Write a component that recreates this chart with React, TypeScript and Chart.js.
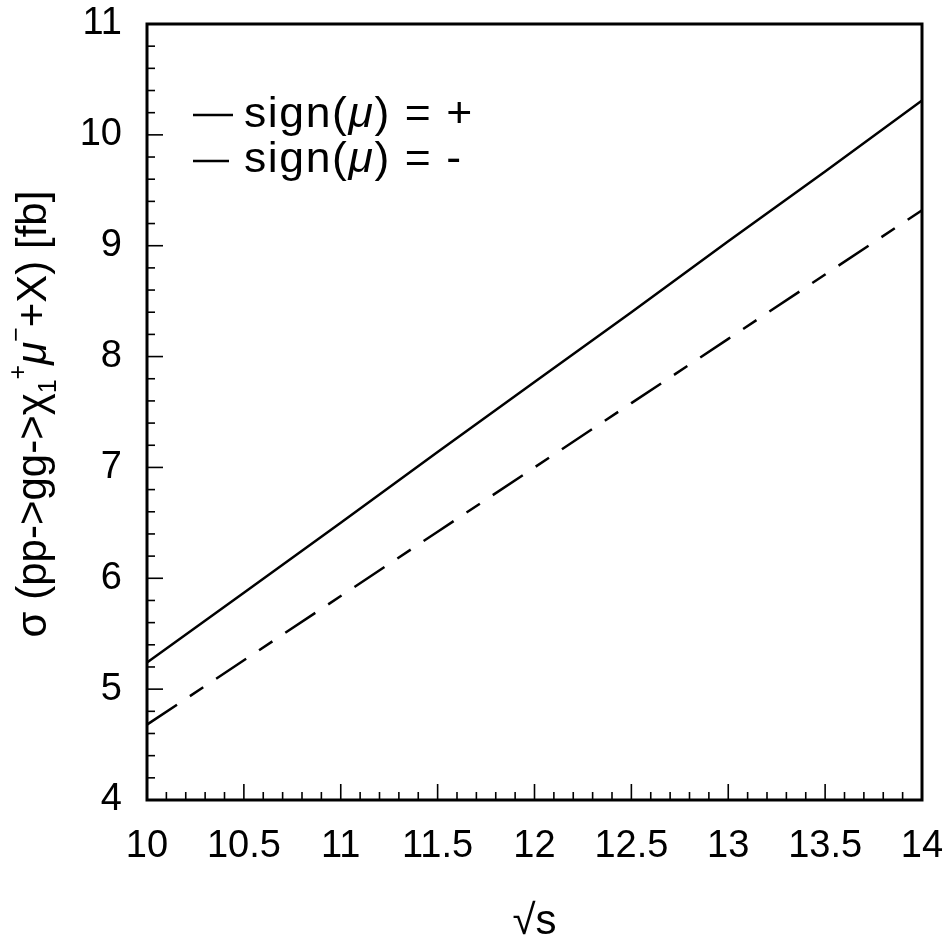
import React, { useEffect, useRef } from 'react';
import { Chart, registerables } from 'chart.js';

Chart.register(...registerables);

// ---- data ----
const sqrtS = [10, 10.5, 11, 11.5, 12, 12.5, 13, 13.5, 14];
const sigmaPlus = [5.24, 5.87, 6.5, 7.14, 7.77, 8.4, 9.04, 9.67, 10.31];
const sigmaMinus = [4.68, 5.26, 5.84, 6.42, 7.0, 7.58, 8.16, 8.74, 9.32];
const seriesLabels = ['sign(μ) = +', 'sign(μ) = -'];
const xRange = [10, 14];
const yRange = [4, 11];
const xMajorStep = 0.5;
const xMinorStep = 0.1;
const yMajorStep = 1;
const yMinorStep = 0.2;

const FONT = '"Liberation Sans", Arial, Helvetica, sans-serif';
const DASH = [36, 15.5, 16, 15.5];

type Run = { t: string; size: number; italic?: boolean; dy?: number };

function drawRuns(ctx: CanvasRenderingContext2D, runs: Run[], spacing: number, measureOnly = false) {
  let x = 0;
  for (const r of runs) {
    ctx.font = `${r.italic ? 'italic ' : ''}${r.size}px ${FONT}`;
    (ctx as any).letterSpacing = `${spacing}px`;
    if (!measureOnly) ctx.fillText(r.t, x, r.dy || 0);
    x += ctx.measureText(r.t).width;
  }
  return x;
}

function splitMu(label: string, size: number): Run[] {
  const parts = label.split('μ');
  const runs: Run[] = [];
  parts.forEach((p, i) => {
    if (p) runs.push({ t: p, size });
    if (i < parts.length - 1) runs.push({ t: 'μ', size, italic: true });
  });
  return runs;
}

const framePlugin = {
  id: 'framePlugin',
  afterDraw(chart: any) {
    const ctx: CanvasRenderingContext2D = chart.ctx;
    const { left, right, top, bottom } = chart.chartArea;
    const xs = chart.scales.x;
    const ys = chart.scales.y;
    ctx.save();
    ctx.strokeStyle = '#000';
    ctx.fillStyle = '#000';

    // inner ticks on x axis
    ctx.lineWidth = 1.6;
    const nx = Math.round((xs.max - xs.min) / xMinorStep);
    for (let i = 1; i < nx; i++) {
      const v = xs.min + i * xMinorStep;
      const px = xs.getPixelForValue(v);
      const major = Math.abs(v / xMajorStep - Math.round(v / xMajorStep)) < 1e-6;
      const len = major ? 16 : 8;
      ctx.beginPath();
      ctx.moveTo(px, bottom);
      ctx.lineTo(px, bottom - len);
      ctx.stroke();
    }
    // inner ticks on y axis
    const ny = Math.round((ys.max - ys.min) / yMinorStep);
    for (let i = 1; i < ny; i++) {
      const v = ys.min + i * yMinorStep;
      const py = ys.getPixelForValue(v);
      const major = Math.abs(v / yMajorStep - Math.round(v / yMajorStep)) < 1e-6;
      const len = major ? 16 : 8;
      ctx.beginPath();
      ctx.moveTo(left, py);
      ctx.lineTo(left + len, py);
      ctx.stroke();
    }

    // frame
    ctx.lineWidth = 3;
    ctx.strokeRect(left, top, right - left, bottom - top);

    // legend
    const items = [
      { dash: [] as number[], label: seriesLabels[0] },
      { dash: DASH, label: seriesLabels[1] },
    ];
    items.forEach((it, i) => {
      const ly = top + 91 + i * 46;
      ctx.lineWidth = 2.5;
      ctx.setLineDash(it.dash);
      ctx.beginPath();
      ctx.moveTo(left + 46, ly);
      ctx.lineTo(left + 86, ly);
      ctx.stroke();
      ctx.setLineDash([]);
      ctx.save();
      ctx.translate(left + 97, top + 103 + i * 45);
      ctx.scale(1.06, 1);
      ctx.textBaseline = 'alphabetic';
      ctx.textAlign = 'left';
      drawRuns(ctx, splitMu(it.label, 42), 1.5);
      ctx.restore();
    });

    // y axis title
    const F = 42;
    const s = 25;
    const yRuns: Run[] = [
      { t: 'σ (pp->gg->χ', size: F },
      { t: '1', size: s, dy: 10 },
      { t: '+', size: s, dy: -20 },
      { t: 'μ', size: F, italic: true },
      { t: '−', size: s, dy: -22 },
      { t: '+X) [fb]', size: F },
    ];
    ctx.save();
    ctx.textAlign = 'left';
    ctx.textBaseline = 'alphabetic';
    const w = drawRuns(ctx, yRuns, 0, true);
    ctx.translate(46, (top + bottom) / 2 + 2);
    ctx.rotate(-Math.PI / 2);
    ctx.translate(-w / 2, 0);
    drawRuns(ctx, yRuns, 0);
    ctx.restore();

    // x axis title
    ctx.save();
    ctx.textAlign = 'left';
    ctx.textBaseline = 'alphabetic';
    const xRuns: Run[] = [{ t: '√s', size: 42 }];
    const wx = drawRuns(ctx, xRuns, 0, true);
    ctx.translate((left + right) / 2 - wx / 2, 934);
    drawRuns(ctx, xRuns, 0);
    ctx.restore();

    ctx.restore();
  },
};

export default function App() {
  const ref = useRef<HTMLCanvasElement | null>(null);
  useEffect(() => {
    document.body.style.margin = '0';
    const canvas = ref.current;
    if (!canvas) return;
    const tickFont = { family: FONT, size: 38 };
    const chart = new Chart(canvas, {
      type: 'line',
      data: {
        datasets: [
          {
            label: seriesLabels[0],
            data: sqrtS.map((x, i) => ({ x, y: sigmaPlus[i] })),
            borderColor: '#000',
            borderWidth: 2.5,
            pointRadius: 0,
            tension: 0,
            fill: false,
          },
          {
            label: seriesLabels[1],
            data: sqrtS.map((x, i) => ({ x, y: sigmaMinus[i] })),
            borderColor: '#000',
            borderWidth: 2.5,
            borderDash: DASH,
            pointRadius: 0,
            tension: 0,
            fill: false,
          },
        ],
      },
      options: {
        responsive: false,
        animation: false,
        layout: { padding: { top: 24, right: 29, left: 0, bottom: 0 } },
        plugins: { legend: { display: false }, tooltip: { enabled: false } },
        scales: {
          x: {
            type: 'linear',
            min: xRange[0],
            max: xRange[1],
            grid: { display: false, drawTicks: false },
            border: { display: false },
            ticks: {
              stepSize: xMajorStep,
              autoSkip: false,
              maxRotation: 0,
              padding: 24,
              color: '#000',
              font: tickFont,
              callback: (v: any) => String(v),
            },
            afterFit: (s: any) => {
              s.height = 137;
              s.paddingLeft = 0;
              s.paddingRight = 0;
            },
          },
          y: {
            type: 'linear',
            min: yRange[0],
            max: yRange[1],
            grid: { display: false, drawTicks: false },
            border: { display: false },
            ticks: {
              stepSize: yMajorStep,
              autoSkip: false,
              padding: 25,
              color: '#000',
              font: tickFont,
              callback: (v: any) => String(v),
            },
            afterFit: (s: any) => {
              s.width = 147;
              s.paddingTop = 0;
              s.paddingBottom = 0;
            },
          },
        },
      },
      plugins: [framePlugin],
    } as any);
    return () => chart.destroy();
  }, []);
  return (
    <div style={{ width: 951, height: 937, background: '#fff' }}>
      <canvas ref={ref} width={951} height={937} style={{ display: 'block' }} />
    </div>
  );
}
